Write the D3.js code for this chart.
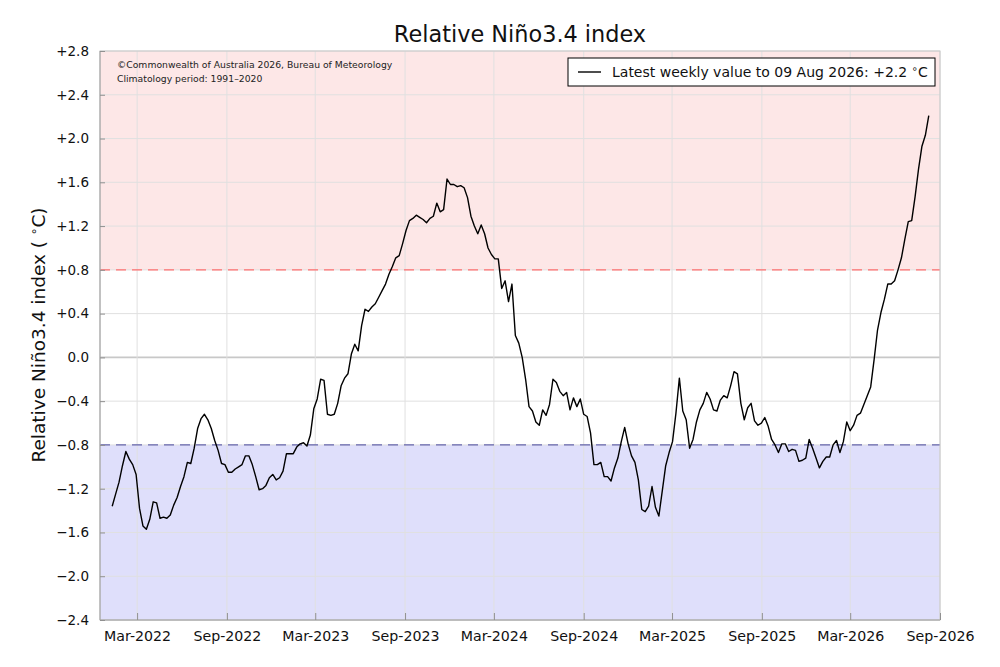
<!DOCTYPE html>
<html>
<head>
<meta charset="utf-8">
<script src="https://cdn.jsdelivr.net/npm/d3@7"></script>
<style>
  body { margin: 0; background: #fff; }
  text { font-family: "DejaVu Sans", sans-serif; }
</style>
</head>
<body>
<script>
// weekly relative Nino3.4 values, last one is the week ending 09 Aug 2026
const lastWeek = "2026-08-09";
const values = [
  -1.36, -1.25, -1.14, -0.99, -0.86, -0.93, -0.98, -1.07, -1.38, -1.54,
  -1.57, -1.48, -1.32, -1.33, -1.47, -1.46, -1.47, -1.44, -1.35, -1.28,
  -1.18, -1.09, -0.96, -0.97, -0.83, -0.65, -0.56, -0.52, -0.57, -0.65,
  -0.76, -0.85, -0.97, -0.98, -1.05, -1.05, -1.02, -1.00, -0.98, -0.90,
  -0.90, -0.98, -1.09, -1.21, -1.20, -1.17, -1.10, -1.07, -1.12, -1.10,
  -1.04, -0.88, -0.88, -0.88, -0.82, -0.79, -0.78, -0.81, -0.71, -0.47,
  -0.38, -0.20, -0.21,
  -0.52, -0.53, -0.52, -0.42, -0.26, -0.19, -0.15, 0.03, 0.12, 0.06,
  0.29, 0.44, 0.42, 0.46, 0.49, 0.55, 0.61, 0.67, 0.76, 0.83,
  0.91, 0.93, 1.04, 1.16, 1.25, 1.27, 1.30, 1.28, 1.26, 1.23,
  1.27, 1.29, 1.41, 1.33, 1.35, 1.63, 1.58, 1.58, 1.56, 1.57,
  1.55, 1.46, 1.29, 1.20, 1.13, 1.21, 1.13, 1.00, 0.94, 0.90,
  0.90, 0.63, 0.70, 0.51, 0.67, 0.20, 0.13, 0.00, -0.20, -0.45,
  -0.49, -0.59, -0.62, -0.48, -0.53, -0.43, -0.20, -0.23, -0.31, -0.35,
  -0.32, -0.48, -0.37, -0.45, -0.38, -0.52, -0.54, -0.69, -0.98, -0.98,
  -0.96, -1.09, -1.09, -1.13, -1.01, -0.92, -0.77, -0.64, -0.79, -0.90,
  -0.96, -1.12, -1.39, -1.41, -1.36, -1.18, -1.37, -1.45, -1.22, -0.99,
  -0.87, -0.77, -0.51, -0.19, -0.49, -0.57, -0.83, -0.75, -0.59, -0.48,
  -0.42, -0.32, -0.38,
  -0.48, -0.49, -0.39, -0.35, -0.37, -0.26, -0.13, -0.15, -0.42, -0.57,
  -0.46, -0.42, -0.58, -0.62, -0.60, -0.55, -0.63, -0.75, -0.80, -0.87,
  -0.79, -0.79, -0.86, -0.84, -0.85, -0.95, -0.94, -0.92, -0.75, -0.83,
  -0.92, -1.01, -0.95, -0.91, -0.91, -0.80, -0.76, -0.87, -0.77, -0.59,
  -0.67, -0.62, -0.53, -0.51, -0.43, -0.35, -0.27, -0.02, 0.25, 0.41,
  0.53, 0.67, 0.67, 0.70, 0.80, 0.91, 1.08, 1.24, 1.25, 1.47,
  1.72, 1.93, 2.03, 2.21
];
const xTicks = ["2022-03-01", "2022-09-01", "2023-03-01", "2023-09-01", "2024-03-01",
                "2024-09-01", "2025-03-01", "2025-09-01", "2026-03-01", "2026-09-01"];
const yTicks = [-2.4, -2.0, -1.6, -1.2, -0.8, -0.4, 0.0, 0.4, 0.8, 1.2, 1.6, 2.0, 2.4, 2.8];
const xDomain = ["2021-12-15", "2026-09-01"];
const yDomain = [-2.4, 2.8];
const elNino = 0.8, laNina = -0.8;
const latestLabel = "Latest weekly value to 09 Aug 2026: +2.2 ";

const W = 1000, H = 667;
const margin = {top: 51, right: 60, bottom: 47, left: 100};
const width = W - margin.left - margin.right,
      height = H - margin.top - margin.bottom;

const parse = d3.utcParse("%Y-%m-%d");
const end = parse(lastWeek);
const data = values.map((v, i) => ({date: d3.utcWeek.offset(end, i - (values.length - 1)), v: v}));

const svg = d3.select("body").append("svg")
    .attr("width", W).attr("height", H);
const g = svg.append("g")
    .attr("transform", `translate(${margin.left},${margin.top})`);

const x = d3.scaleUtc().domain(xDomain.map(parse)).range([0, width]);
const y = d3.scaleLinear().domain(yDomain).range([height, 0]);

// shaded zones
g.append("rect").attr("x", 0).attr("width", width)
    .attr("y", y(yDomain[1])).attr("height", y(elNino) - y(yDomain[1]))
    .attr("fill", "#fde7e7");
g.append("rect").attr("x", 0).attr("width", width)
    .attr("y", y(laNina)).attr("height", y(yDomain[0]) - y(laNina))
    .attr("fill", "#dfdffb");

// grid
g.selectAll(".hgrid").data(yTicks).enter().append("line")
    .attr("x1", 0).attr("x2", width)
    .attr("y1", d => y(d)).attr("y2", d => y(d))
    .attr("stroke", d => d === 0 ? "#c8c8c8" : "#e0e0e0")
    .attr("stroke-width", d => d === 0 ? 1.6 : 1);
g.selectAll(".vgrid").data(xTicks).enter().append("line")
    .attr("x1", d => x(parse(d))).attr("x2", d => x(parse(d)))
    .attr("y1", 0).attr("y2", height)
    .attr("stroke", "#e0e0e0");

// thresholds
g.append("line").attr("x1", 0).attr("x2", width)
    .attr("y1", y(elNino)).attr("y2", y(elNino))
    .attr("stroke", "#ff6e6e").attr("stroke-width", 1.4).attr("stroke-dasharray", "10,6");
g.append("line").attr("x1", 0).attr("x2", width)
    .attr("y1", y(laNina)).attr("y2", y(laNina))
    .attr("stroke", "#6464ac").attr("stroke-width", 1.4).attr("stroke-dasharray", "10,6");

// the index line
g.append("path").datum(data)
    .attr("fill", "none").attr("stroke", "#000").attr("stroke-width", 1.4)
    .attr("stroke-linejoin", "round")
    .attr("d", d3.line().x(d => x(d.date)).y(d => y(d.v)));

// spines
g.append("rect").attr("width", width).attr("height", height)
    .attr("fill", "none").attr("stroke", "#c8c8c8");
g.append("line").attr("x1", 0).attr("x2", 0).attr("y1", 0).attr("y2", height).attr("stroke", "#a0a0a0");
g.append("line").attr("x1", 0).attr("x2", width).attr("y1", height).attr("y2", height).attr("stroke", "#a0a0a0");

// axes
const fmtY = d => d === 0 ? "0.0" : (d > 0 ? "+" : "\u2212") + Math.abs(d).toFixed(1);
const yAxis = g.append("g")
    .call(d3.axisLeft(y).tickValues(yTicks).tickFormat(fmtY).tickSize(-5).tickPadding(11));
yAxis.select(".domain").remove();
yAxis.selectAll(".tick line").attr("stroke", "#909090");
yAxis.selectAll("text").attr("fill", "#111").style("font-size", "13.5px")
    .style("font-family", "DejaVu Sans");

const fmtX = d3.utcFormat("%b-%Y");
const xAxis = g.append("g").attr("transform", `translate(0,${height})`)
    .call(d3.axisBottom(x).tickValues(xTicks.map(parse)).tickFormat(fmtX).tickSize(-7).tickPadding(11));
xAxis.select(".domain").remove();
xAxis.selectAll(".tick line").attr("stroke", "#909090");
xAxis.selectAll("text").attr("fill", "#111").style("font-size", "14.2px")
    .style("font-family", "DejaVu Sans");

// title
svg.append("text").attr("x", 520).attr("y", 42).attr("text-anchor", "middle")
    .style("font-size", "22.4px").attr("fill", "#111").text("Relative Niño3.4 index");

// y label
const yl = svg.append("text")
    .attr("transform", "translate(45,335) rotate(-90)")
    .attr("text-anchor", "middle").style("font-size", "18.5px").attr("fill", "#111");
yl.append("tspan").text("Relative Niño3.4 index ( ");
yl.append("tspan").attr("dy", -7).style("font-size", "12px").text("\u2218");
yl.append("tspan").attr("dy", 7).text("C)");

// credits
const credit = g.append("text").attr("x", 17).attr("y", 17)
    .style("font-size", "9.26px").attr("fill", "#222");
credit.append("tspan").attr("x", 17).text("©Commonwealth of Australia 2026, Bureau of Meteorology");
credit.append("tspan").attr("x", 17).attr("dy", 14.3).text("Climatology period: 1991–2020");

// legend
const lg = svg.append("g").attr("transform", "translate(568,58)");
lg.append("rect").attr("width", 367).attr("height", 28)
    .attr("fill", "#fff").attr("stroke", "#000").attr("stroke-width", 1);
lg.append("line").attr("x1", 10).attr("x2", 33).attr("y1", 14).attr("y2", 14)
    .attr("stroke", "#000").attr("stroke-width", 1.4);
const lt = lg.append("text").attr("x", 44).attr("y", 19)
    .style("font-size", "14px").attr("fill", "#111");
lt.append("tspan").text(latestLabel);
lt.append("tspan").attr("dy", -5).style("font-size", "10px").text("\u2218");
lt.append("tspan").attr("dy", 5).text("C");
</script>
</body>
</html>
